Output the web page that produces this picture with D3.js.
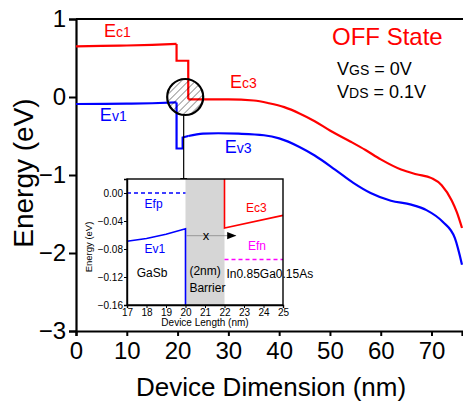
<!DOCTYPE html>
<html>
<head>
<meta charset="utf-8">
<script src="https://cdn.jsdelivr.net/npm/d3@7"></script>
<style>
  body { margin: 0; background: #fff; }
  svg { display: block; font-family: Arial, "Liberation Sans", sans-serif; }
  .axis path, .axis line { stroke: #000; }
</style>
</head>
<body>
<div id="chart"></div>
<script>
// main band diagram (x in nm, energy in eV)
var ecLeft = [[0, 0.65], [5, 0.655], [10, 0.66], [15, 0.668], [19.8, 0.68]];
var ecStep = [[19.8, 0.68], [19.8, 0.465], [22.1, 0.465], [22.1, -0.03]];
var ecRight = [[22.1, -0.03], [25, -0.03], [30, -0.03], [35, -0.045], [38, -0.08], [41, -0.13],
  [44, -0.21], [47, -0.31], [50, -0.43], [54, -0.57], [57, -0.68], [60, -0.8], [64, -0.93],
  [67, -0.99], [70, -1.04], [72, -1.13], [74, -1.33], [75, -1.48], [76, -1.68]];
var evLeft = [[0, -0.09], [10, -0.085], [15, -0.08], [19.8, -0.07]];
var evStep = [[19.8, -0.07], [19.8, -0.66], [21.0, -0.66], [21.0, -0.52], [22.1, -0.5]];
var evRight = [[22.1, -0.5], [25, -0.47], [28, -0.465], [32, -0.47], [37, -0.49], [40, -0.53],
  [44, -0.64], [47, -0.75], [51, -0.93], [54.6, -1.1], [58, -1.23], [62, -1.33], [66, -1.38],
  [69, -1.45], [72.2, -1.6], [74.6, -1.81], [76, -2.15]];
var xMajor = [0, 10, 20, 30, 40, 50, 60, 70];
var yMajor = [-3, -2, -1, 0, 1];

// inset zoom around the barrier
var insetEv = [[17, -0.069], [18, -0.065], [19, -0.059], [20, -0.051], [20, -0.16]];
var insetEc = [[22, 0.02], [22, -0.05], [25, -0.032]];
var insetEfp = [[17, 0], [20, 0]];
var insetEfn = [[22, -0.095], [25, -0.095]];
var barrier = [20, 22];
var xArrow = [[20.05, -0.061], [22.6, -0.061]];
var insetXTicks = [17, 18, 19, 20, 21, 22, 23, 24, 25];
var insetYTicks = [-0.16, -0.12, -0.08, -0.04, 0.00];

var W = 463, H = 404;
var svg = d3.select('#chart').append('svg').attr('width', W).attr('height', H);

var x = d3.scaleLinear().domain([0, 76]).range([76, 462]);
var y = d3.scaleLinear().domain([-3, 1]).range([331, 19]);

var defs = svg.append('defs');
defs.append('pattern')
  .attr('id', 'hatch').attr('patternUnits', 'userSpaceOnUse')
  .attr('width', 5).attr('height', 5)
  .attr('patternTransform', 'rotate(45)')
  .append('line').attr('x1', 0).attr('y1', 0).attr('x2', 0).attr('y2', 5)
  .attr('stroke', '#000').attr('stroke-width', 0.8);
defs.append('marker')
  .attr('id', 'arrow').attr('viewBox', '0 0 10 10').attr('refX', 10).attr('refY', 5)
  .attr('markerWidth', 9).attr('markerHeight', 9).attr('markerUnits', 'userSpaceOnUse')
  .attr('orient', 'auto')
  .append('path').attr('d', 'M0,1 L10,5 L0,9 Z').attr('fill', '#000');

// axes
var gx = svg.append('g').attr('class', 'axis').attr('transform', 'translate(0,' + y(-3) + ')');
gx.call(d3.axisBottom(x).tickValues(d3.range(5, 76, 10)).tickSize(3).tickFormat(''));
gx.call(d3.axisBottom(x).tickValues(xMajor).tickSize(5).tickPadding(6).tickFormat(d3.format('d')));
gx.selectAll('text').attr('font-size', 24).attr('font-family', null);
gx.selectAll('.domain').attr('stroke-width', 2.2);
gx.selectAll('.tick line').attr('stroke-width', 2);

var gy = svg.append('g').attr('class', 'axis').attr('transform', 'translate(' + x(0) + ',0)');
gy.call(d3.axisLeft(y).tickValues(d3.range(-2.5, 1, 1)).tickSize(4).tickFormat(''));
gy.call(d3.axisLeft(y).tickValues(yMajor).tickSize(7).tickPadding(3).tickFormat(d3.format('d')));
gy.selectAll('text').attr('font-size', 24).attr('font-family', null);
gy.selectAll('.domain').attr('stroke-width', 2.2);
gy.selectAll('.tick line').attr('stroke-width', 2);

svg.append('line')
  .attr('x1', x(0)).attr('x2', W).attr('y1', y(1)).attr('y2', y(1))
  .attr('stroke', '#000').attr('stroke-width', 2.2);

svg.append('text')
  .attr('transform', 'translate(33,' + 173 + ') rotate(-90)')
  .attr('text-anchor', 'middle').attr('font-size', 28).text('Energy (eV)');
svg.append('text')
  .attr('x', 271).attr('y', 396)
  .attr('text-anchor', 'middle').attr('font-size', 26).text('Device Dimension (nm)');

// curves
var line = d3.line().x(function(d){ return x(d[0]); }).y(function(d){ return y(d[1]); });
var smooth = d3.line().x(function(d){ return x(d[0]); }).y(function(d){ return y(d[1]); })
  .curve(d3.curveMonotoneX);
var plot = svg.append('g');
[[ecLeft, smooth, 'red'], [ecStep, line, 'red'], [ecRight, smooth, 'red'],
 [evLeft, smooth, 'blue'], [evStep, line, 'blue'], [evRight, smooth, 'blue']].forEach(function(s){
  plot.append('path').attr('d', s[1](s[0]))
    .attr('fill', 'none').attr('stroke', s[2]).attr('stroke-width', 2.2)
    .attr('stroke-linejoin', 'miter');
});

// hatched circle
var cx = x(21.5), cy = y(0), r = 18;
svg.append('circle').attr('cx', cx).attr('cy', cy).attr('r', r)
  .attr('fill', 'url(#hatch)').attr('stroke', '#000').attr('stroke-width', 2.2);

// labels on the main plot
function subLabel(px, py, big, small, color, rest) {
  var t = svg.append('text').attr('x', px).attr('y', py).attr('fill', color);
  t.append('tspan').attr('font-size', 18).text(big);
  t.append('tspan').attr('font-size', 14).text(small);
  if (rest) t.append('tspan').attr('font-size', 18).text(rest);
}
subLabel(x(5.5), y(0.77), 'E', 'c1', 'red');
subLabel(x(4.7), y(-0.31), 'E', 'v1', 'blue');
subLabel(x(30.3), y(0.115), 'E', 'c3', 'red');
subLabel(x(29.3), y(-0.72), 'E', 'v3', 'blue');
subLabel(x(51.4), y(0.28), 'V', 'GS', '#000', ' = 0V');
subLabel(x(51.4), y(-0.01), 'V', 'DS', '#000', ' = 0.1V');
svg.append('text').attr('x', x(50.4)).attr('y', y(0.67)).attr('fill', 'red')
  .attr('font-size', 24).text('OFF State');

// inset
var ix = d3.scaleLinear().domain([17, 25]).range([127, 283]);
var iy = d3.scaleLinear().domain([-0.16, 0.02]).range([305, 179]);

svg.append('line')
  .attr('x1', x(21.2)).attr('x2', x(21.2)).attr('y1', cy + r).attr('y2', 187)
  .attr('stroke', '#000').attr('stroke-width', 1.2).attr('marker-end', 'url(#arrow)');

var inset = svg.append('g');
inset.append('rect').attr('x', ix(17)).attr('y', iy(0.02))
  .attr('width', ix(25) - ix(17)).attr('height', iy(-0.16) - iy(0.02)).attr('fill', '#fff');
inset.append('rect').attr('x', ix(barrier[0])).attr('y', iy(0.02))
  .attr('width', ix(barrier[1]) - ix(barrier[0])).attr('height', iy(-0.16) - iy(0.02))
  .attr('fill', '#d6d6d6');

var iline = d3.line().x(function(d){ return ix(d[0]); }).y(function(d){ return iy(d[1]); });
inset.append('path').attr('d', iline(insetEfp)).attr('fill', 'none')
  .attr('stroke', 'blue').attr('stroke-width', 1.5).attr('stroke-dasharray', '4,3');
inset.append('path').attr('d', iline(insetEfn)).attr('fill', 'none')
  .attr('stroke', '#ff00ff').attr('stroke-width', 1.5).attr('stroke-dasharray', '4,3');
inset.append('path').attr('d', iline(insetEv)).attr('fill', 'none')
  .attr('stroke', 'blue').attr('stroke-width', 1.6);
inset.append('path').attr('d', iline(insetEc)).attr('fill', 'none')
  .attr('stroke', 'red').attr('stroke-width', 1.6);
inset.append('path').attr('d', iline(xArrow)).attr('fill', 'none')
  .attr('stroke', '#888').attr('stroke-width', 0.8).attr('marker-end', 'url(#arrow)');
inset.append('text').attr('x', ix(21.05)).attr('y', iy(-0.061) + 4.5)
  .attr('text-anchor', 'middle').attr('font-size', 13).text('x');

var ixAxis = inset.append('g').attr('class', 'axis').attr('transform', 'translate(0,' + iy(-0.16) + ')');
ixAxis.call(d3.axisBottom(ix).tickValues(d3.range(17.5, 25, 1)).tickSize(2).tickFormat(''));
ixAxis.call(d3.axisBottom(ix).tickValues(insetXTicks).tickSize(3).tickPadding(1).tickFormat(d3.format('d')));
var iyAxis = inset.append('g').attr('class', 'axis').attr('transform', 'translate(' + ix(17) + ',0)');
iyAxis.call(d3.axisLeft(iy).tickValues([-0.14, -0.10, -0.06, -0.02, 0.02]).tickSize(2).tickFormat(''));
iyAxis.call(d3.axisLeft(iy).tickValues(insetYTicks).tickSize(3).tickPadding(1).tickFormat(d3.format('.2f')));
inset.selectAll('.axis text').attr('font-size', 10).attr('font-family', null);
inset.selectAll('.axis .domain').attr('stroke-width', 1.4);
inset.append('rect').attr('x', ix(17)).attr('y', iy(0.02))
  .attr('width', ix(25) - ix(17)).attr('height', iy(-0.16) - iy(0.02))
  .attr('fill', 'none').attr('stroke', '#000').attr('stroke-width', 1.4);

inset.append('text').attr('transform', 'translate(92,247) rotate(-90)')
  .attr('text-anchor', 'middle').attr('font-size', 9.5).text('Energy (eV)');
inset.append('text').attr('x', (ix(17) + ix(25)) / 2).attr('y', 326)
  .attr('text-anchor', 'middle').attr('font-size', 10).text('Device Length (nm)');

function insetText(xv, yv, str, color) {
  inset.append('text').attr('x', ix(xv)).attr('y', iy(yv)).attr('fill', color)
    .attr('font-size', 12).text(str);
}
insetText(17.9, -0.022, 'Efp', 'blue');
insetText(17.9, -0.085, 'Ev1', 'blue');
insetText(17.5, -0.12, 'GaSb', '#000');
insetText(20.2, -0.117, '(2nm)', '#000');
insetText(20.2, -0.141, 'Barrier', '#000');
insetText(23.1, -0.027, 'Ec3', 'red');
insetText(23.2, -0.082, 'Efn', '#ff00ff');
insetText(22.1, -0.122, 'In0.85Ga0.15As', '#000');
</script>
</body>
</html>
